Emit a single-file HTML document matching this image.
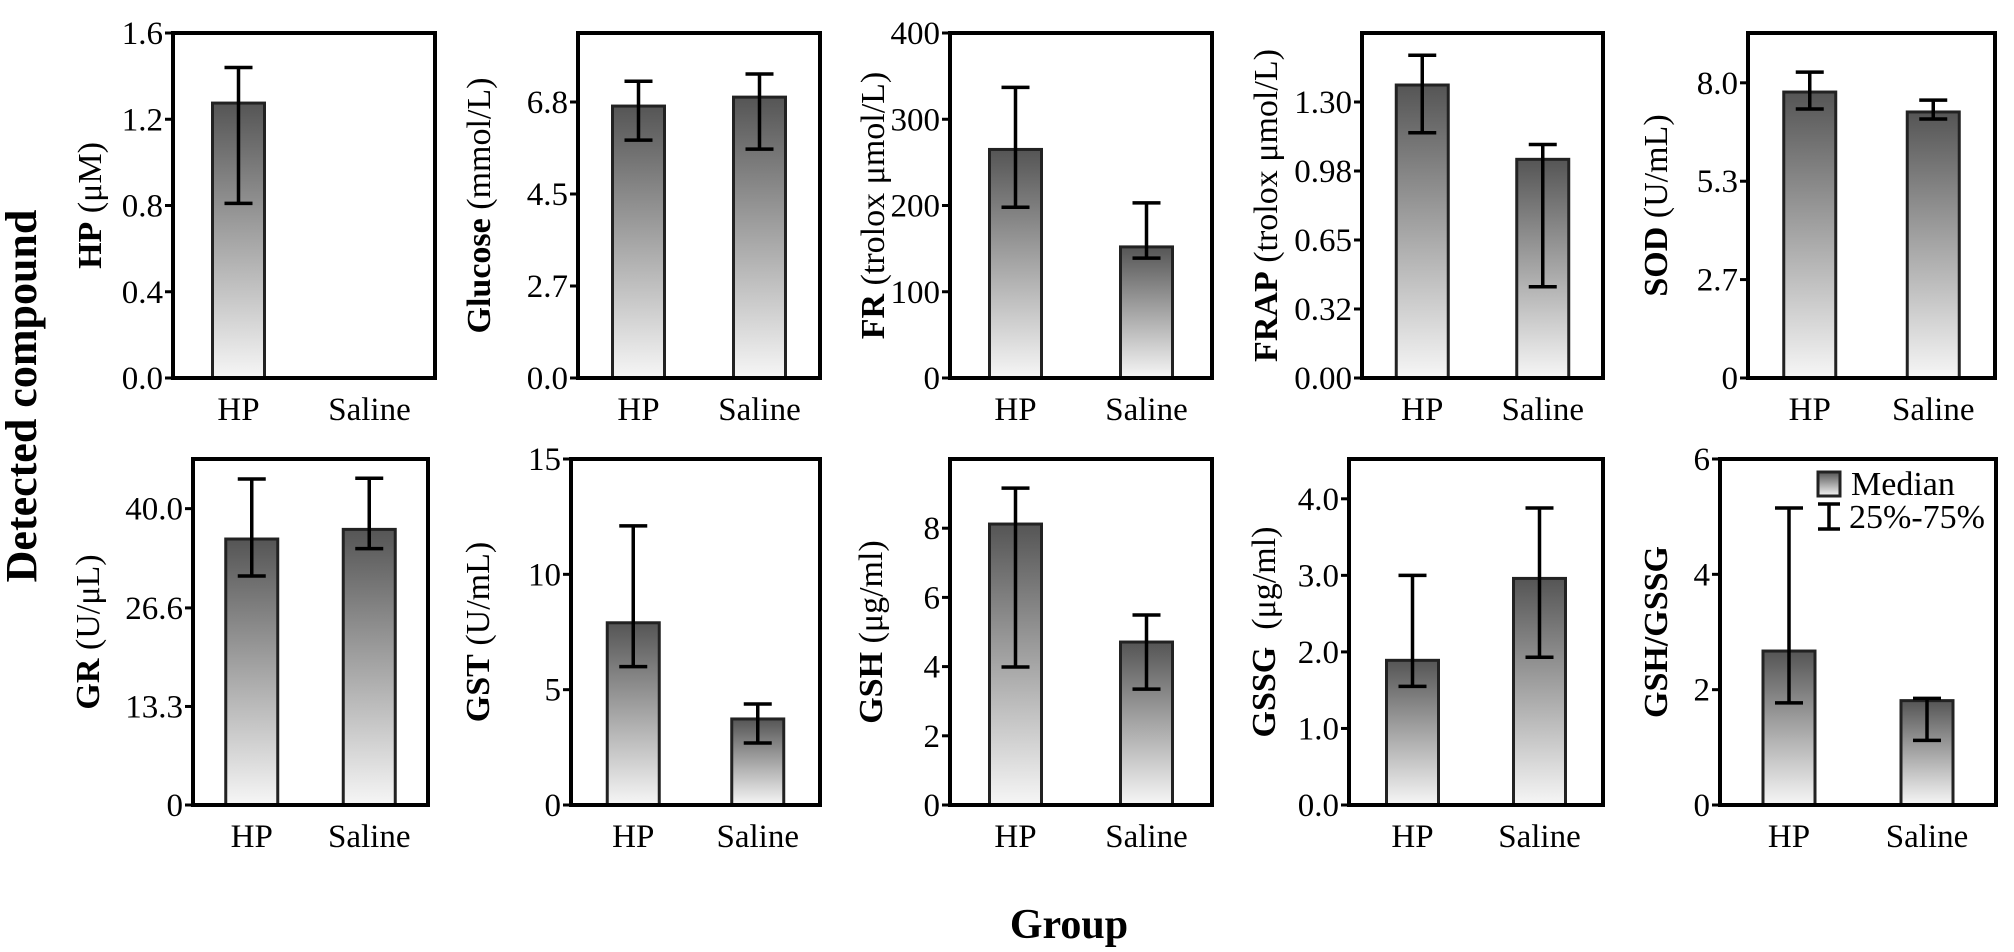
<!DOCTYPE html>
<html><head><meta charset="utf-8"><style>
html,body{margin:0;padding:0;background:#fff}
svg{display:block}
text{font-family:"Liberation Serif","DejaVu Serif",serif;fill:#000}
</style></head><body>
<svg id="chart" width="2014" height="952" viewBox="0 0 2014 952" xmlns="http://www.w3.org/2000/svg">
<defs><linearGradient id="barGrad" x1="0" y1="0" x2="0" y2="1"><stop offset="0" stop-color="#555"/><stop offset="1" stop-color="#f6f6f6"/></linearGradient></defs>
</svg>
<script>
const categories = ["HP", "Saline"];
const titlesBold = ["HP", "Glucose", "FR", "FRAP", "SOD", "GR", "GST", "GSH", "GSSG", "GSH/GSSG"];
const titlesUnit = [" (μM)", " (mmol/L)", " (trolox μmol/L)", " (trolox μmol/L)", " (U/mL)", " (U/μL)", " (U/mL)", " (μg/ml)", "  (μg/ml)", ""];
const medianHP     = [1.275, 6.70, 265, 1.38, 7.75, 35.9, 7.9, 8.12, 1.89, 2.67];
const medianSaline = [null, 6.92, 152, 1.03, 7.21, 37.2, 3.73, 4.71, 2.96, 1.81];
const lowHP        = [0.81, 5.86, 198, 1.155, 7.29, 30.9, 6.0, 3.99, 1.55, 1.77];
const highHP       = [1.44, 7.31, 337, 1.52, 8.29, 44.0, 12.1, 9.16, 3.0, 5.15];
const lowSaline    = [null, 5.64, 139, 0.43, 7.02, 34.6, 2.69, 3.35, 1.93, 1.12];
const highSaline   = [null, 7.49, 203, 1.10, 7.53, 44.1, 4.38, 5.49, 3.88, 1.85];
const yMax         = [1.6, 8.5, 400, 1.625, 9.35, 46.7, 15, 10, 4.52, 6];
const tickValues = [
  [0,0.4,0.8,1.2,1.6],[0,2.267,4.533,6.8],[0,100,200,300,400],[0,0.325,0.65,0.975,1.3],[0,2.667,5.333,8.0],
  [0,13.3,26.6,40.0],[0,5,10,15],[0,2,4,6,8],[0,1,2,3,4],[0,2,4,6]];
const tickLabels = [
  ["0.0","0.4","0.8","1.2","1.6"],["0.0","2.7","4.5","6.8"],["0","100","200","300","400"],["0.00","0.32","0.65","0.98","1.30"],["0","2.7","5.3","8.0"],
  ["0","13.3","26.6","40.0"],["0","5","10","15"],["0","2","4","6","8"],["0.0","1.0","2.0","3.0","4.0"],["0","2","4","6"]];

// layout (pixels)
const boxes = [[173,435,33,378],[578,820,33,378],[950,1212,33,378],[1362,1603,33,378],[1748,1995,33,378],
               [193,428,459,805],[571,820,459,805],[950,1212,459,805],[1349,1603,459,805],[1720,1996,459,805]];
const titleX = [89,478,872,1265,1655,87,477,870,1263,1655];

const NS="http://www.w3.org/2000/svg";
const svg=document.getElementById('chart');
function mk(tag,attrs,parent){const e=document.createElementNS(NS,tag);for(const k in attrs)e.setAttribute(k,attrs[k]);(parent||svg).appendChild(e);return e;}

for(let i=0;i<10;i++){
  const [x0,x1,y0,y1]=boxes[i];
  const g=mk('g',{});
  
  
  const yS=v=>y1-(v/yMax[i])*(y1-y0);
  const xS=c=>x0+(c===0?0.25:0.75)*(x1-x0);
  tickValues[i].forEach((tv,k)=>{
    const ty=yS(tv);
    const t=mk('line',{x1:x0-8,x2:x0,y1:ty,y2:ty,stroke:'#000','stroke-width':3},g);
    
    
    const tl=mk('text',{x:x0-10,y:ty+11,'font-size':33,'text-anchor':'end'},g);
    tl.textContent=tickLabels[i][k];
    
    
  });
  const meds=[medianHP[i],medianSaline[i]], lows=[lowHP[i],lowSaline[i]], highs=[highHP[i],highSaline[i]];
  for(let c=0;c<2;c++){
    const cx=xS(c);
    const lab=mk('text',{x:cx,y:y1+42,'font-size':33,'text-anchor':'middle'},g);
    lab.textContent=categories[c];
    
    
    if(meds[c]==null) continue;
    const top=yS(meds[c]);
    const b=mk('rect',{x:cx-26,y:top,width:52,height:y1-top,fill:'url(#barGrad)',stroke:'#222','stroke-width':3},g);
    
    
    const eh=yS(highs[c]), el=yS(lows[c]);
    const e=mk('path',{d:`M${cx} ${eh}V${el}M${cx-14} ${eh}H${cx+14}M${cx-14} ${el}H${cx+14}`,stroke:'#000','stroke-width':3.5,fill:'none'},g);
    
    
  }
  const bx=mk('rect',{x:x0,y:y0,width:x1-x0,height:y1-y0,fill:'none',stroke:'#000','stroke-width':4},g);
  
  
  const cy=(y0+y1)/2, tx=titleX[i]+12;
  const tt=mk('text',{x:tx,y:cy,'font-size':34,'text-anchor':'middle',transform:`rotate(-90 ${tx} ${cy})`,style:'white-space:pre'},g);
  
  
  const tb=mk('tspan',{'font-weight':'bold'},tt); tb.textContent=titlesBold[i];
  if(titlesUnit[i]){const tu=mk('tspan',{},tt); tu.textContent=titlesUnit[i];}
}
const lg=mk('g',{});


const ls=mk('rect',{x:1818,y:472,width:22,height:24,fill:'url(#barGrad)',stroke:'#222','stroke-width':3},lg);


const lt1=mk('text',{x:1851,y:495,'font-size':34},lg); lt1.textContent='Median';


const le=mk('path',{d:'M1818 504H1840M1829 504V529M1818 529H1840',stroke:'#000','stroke-width':3.5,fill:'none'},lg);


const lt2=mk('text',{x:1849,y:528,'font-size':34},lg); lt2.textContent='25%-75%';


const dc=mk('text',{x:36,y:396,'font-size':44,'font-weight':'bold','text-anchor':'middle',transform:'rotate(-90 36 396)'});
dc.textContent='Detected compound';


const gp=mk('text',{x:1069,y:938,'font-size':42,'font-weight':'bold','text-anchor':'middle'});
gp.textContent='Group';


</script>
</body></html>
